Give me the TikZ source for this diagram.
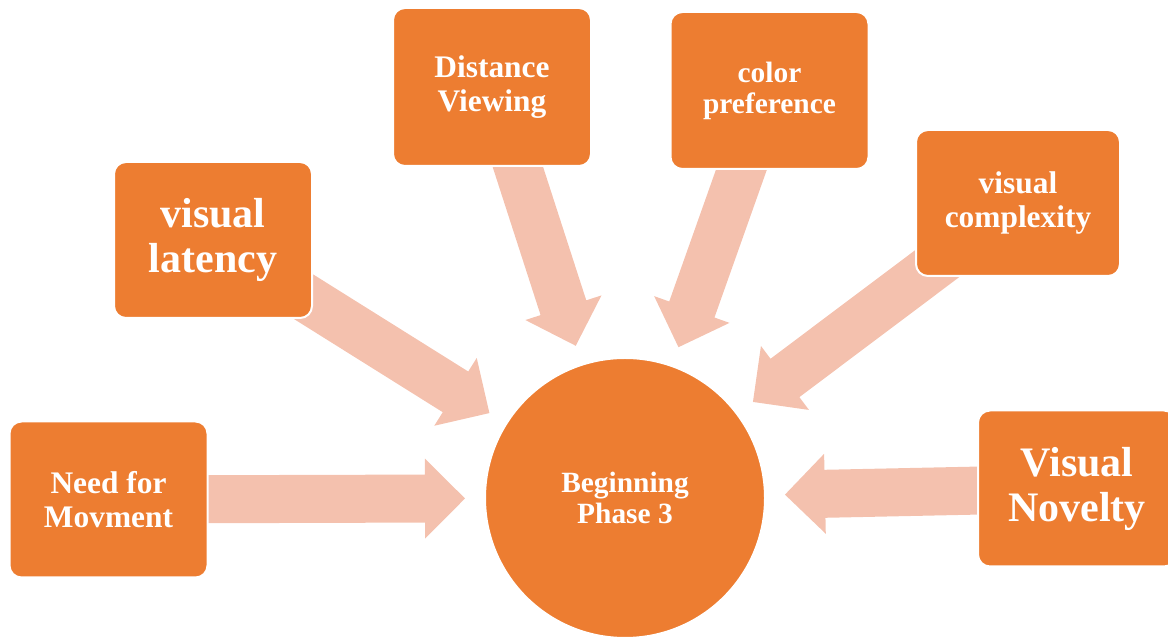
\documentclass[tikz,border=0pt]{standalone}
\usepackage{fontspec}
\setmainfont{Liberation Serif}
\usetikzlibrary{calc,backgrounds}
\definecolor{boxorange}{RGB}{237,125,49}
\definecolor{arrowpink}{RGB}{244,193,174}

\newcommand\radarrow[2]{%
  \coordinate (tip) at ($(#2.center)!80pt!(#1.center)$);
  \coordinate (hb) at ($(tip)!20pt!(#1.center)$);
  \fill[arrowpink]
    ($(#1.center)!12pt!90:(tip)$) --
    ($(hb)!12pt!90:(tip)$) --
    ($(hb)!20pt!90:(tip)$) --
    (tip) --
    ($(hb)!20pt!-90:(tip)$) --
    ($(hb)!12pt!-90:(tip)$) --
    ($(#1.center)!12pt!-90:(tip)$) --
    cycle;}

\begin{document}
\begin{tikzpicture}[x=0.5pt,y=-0.5pt,
  box/.style={rectangle,rounded corners=6pt,fill=boxorange,draw=white,line width=1pt,
    text=white,align=center,inner sep=0pt,minimum width=99pt,minimum height=78pt},
  hub/.style={circle,fill=boxorange,draw=white,line width=1pt,
    text=white,align=center,inner sep=0pt,minimum size=140pt},
  bigtext/.style={font=\fontsize{21}{22.5}\selectfont\bfseries},
  midtext/.style={font=\fontsize{15.7}{16.8}\selectfont\bfseries},
  smalltext/.style={font=\fontsize{14.7}{15.5}\selectfont\bfseries}]
\useasboundingbox (0,0) rectangle (1168,640);
\node[hub,smalltext] (phase) at (625,498) {Beginning\\Phase 3};
\node[box,midtext] (need) at (108.5,499.5) {Need for\\Movment};
\node[box,bigtext] (latency) at (213,240) {visual\\latency};
\node[box,midtext,minimum height=79pt] (distance) at (492,87) {Distance\\Viewing};
\node[box,smalltext,minimum height=78.5pt] (color) at (769.5,90.5) {color\\preference};
\node[box,midtext,minimum width=102pt,minimum height=73pt] (complexity) at (1018,203) {visual\\complexity};
\node[box,bigtext] (novelty) at (1077,488.5) {Visual\\Novelty};
\begin{scope}[on background layer]
\radarrow{need}{phase}
\radarrow{latency}{phase}
\radarrow{distance}{phase}
\radarrow{color}{phase}
\radarrow{complexity}{phase}
\radarrow{novelty}{phase}
\end{scope}
\end{tikzpicture}
\end{document}
